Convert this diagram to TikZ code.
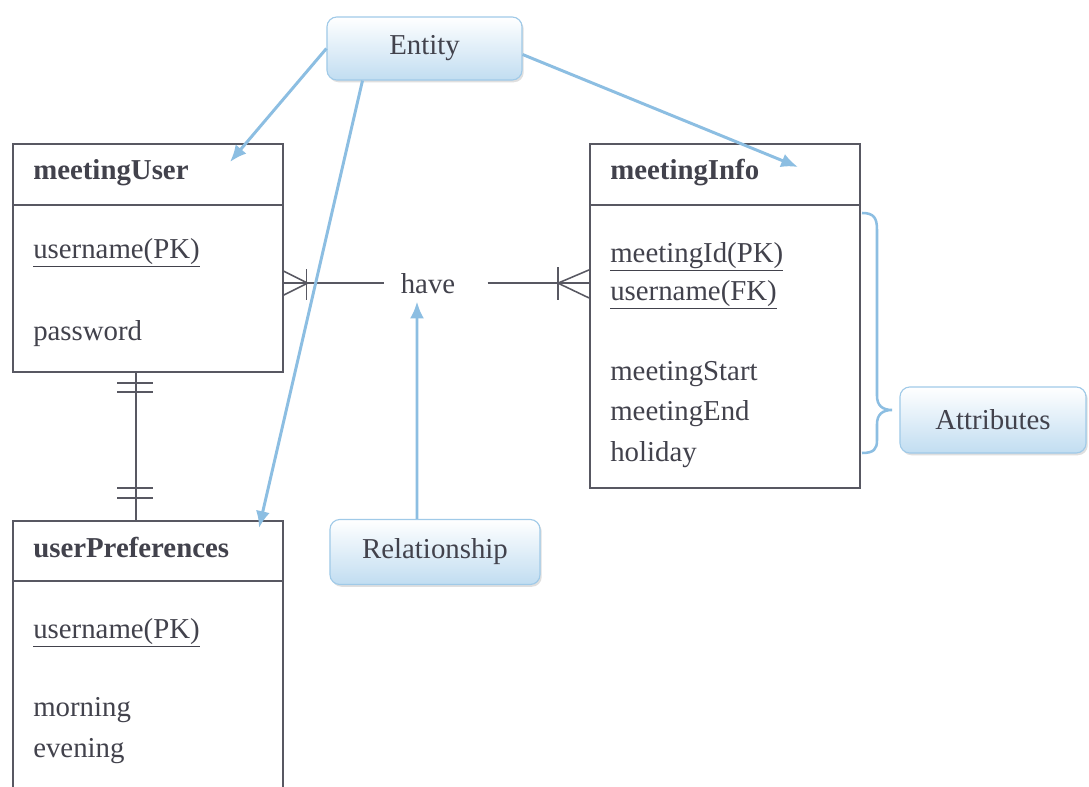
\documentclass[tikz,border=0pt]{standalone}
\usepackage{fontspec}
\setmainfont{Liberation Serif}
\usetikzlibrary{arrows.meta,shadows}

\definecolor{ink}{RGB}{66,66,76}
\definecolor{frame}{RGB}{88,88,98}
\definecolor{callout}{RGB}{140,190,226}
\definecolor{calloutfill}{RGB}{193,221,241}
\definecolor{calloutedge}{RGB}{160,202,232}

\tikzset{
  txt/.style={font=\fontsize{20.5}{24}\selectfont, text=ink, inner sep=0pt},
  lbl/.style={txt, anchor=base west},
  hdr/.style={lbl, font=\fontsize{20.5}{24}\selectfont\bfseries},
  tbl/.style={draw=frame, line width=1.1pt, minimum width=6.75cm, anchor=north west, inner sep=0pt},
  rel/.style={draw=frame, line width=1.1pt},
  callbox/.style={txt, rounded corners=7pt, draw=calloutedge, line width=0.8pt,
    top color=white, bottom color=calloutfill,
    drop shadow={shadow xshift=1.2pt, shadow yshift=-1.6pt, opacity=0.25}},
  pointer/.style={draw=callout, line width=2.1pt, -{Latex[length=12pt,width=10pt]}},
  brace/.style={draw=callout, line width=1.8pt}
}

\begin{document}
\begin{tikzpicture}[x=0.025cm, y=-0.025cm]
  \useasboundingbox (0,0) rectangle (1089,787);
  \fill[white] (0,0) rectangle (1089,787);
  \clip (0,0) rectangle (1089,787);

  % ---- tables ----
  \node[tbl, minimum height=5.7cm] (mu) at (12,143) {};
  \draw[rel] (mu.west |- 0,205) -- (mu.east |- 0,205);
  \node[hdr] (muH) at (33,180) {meetingUser};
  \node[lbl] (muA) at (33,258) {\underline{username(PK)}};
  \node[lbl] (muB) at (33,340) {password};

  \node[tbl, minimum height=8.6cm] (mi) at (589,143) {};
  \draw[rel] (mi.west |- 0,205) -- (mi.east |- 0,205);
  \node[hdr] (miH) at (610,180) {meetingInfo};
  \node[lbl] (miA) at (610,262) {\underline{meetingId(PK)}};
  \node[lbl] (miB) at (610,300) {\underline{username(FK)}};
  \node[lbl] (miC) at (610,380) {meetingStart};
  \node[lbl] (miD) at (610,420) {meetingEnd};
  \node[lbl] (miE) at (610,461) {holiday};

  \node[tbl, minimum height=7.5cm] (up) at (12,520) {};
  \draw[rel] (up.west |- 0,581) -- (up.east |- 0,581);
  \node[hdr] (upH) at (33,557) {userPreferences};
  \node[lbl] (upA) at (33,638) {\underline{username(PK)}};
  \node[lbl] (upB) at (33,716) {morning};
  \node[lbl] (upC) at (33,757) {evening};

  % ---- relationship "have" (many to many) ----
  \node[txt, anchor=base] (have) at (428,293) {have};
  \coordinate (L) at (mu.east |- have.west);
  \coordinate (R) at (mi.west |- have.east);
  \draw[rel] (L) -- ([xshift=-0.425cm]have.west);
  \draw[rel] ([yshift=0.3cm]L) -- ([xshift=0.6cm]L) -- ([yshift=-0.3cm]L);
  \draw[rel] ([xshift=0.575cm,yshift=0.35cm]L) -- ([xshift=0.575cm,yshift=-0.42cm]L);
  \draw[rel] ([xshift=0.8cm]have.east) -- (R);
  \draw[rel] ([yshift=0.33cm]R) -- ([xshift=-0.775cm]R) -- ([yshift=-0.37cm]R);
  \draw[rel] ([xshift=-0.775cm,yshift=0.4cm]R) -- ([xshift=-0.775cm,yshift=-0.42cm]R);

  % ---- one to one between meetingUser and userPreferences ----
  \draw[rel] (mu.south -| 136,0) -- (up.north -| 136,0);
  \draw[rel] (117,383) -- (153,383);
  \draw[rel] (117,392) -- (153,392);
  \draw[rel] (117,488) -- (153,488);
  \draw[rel] (117,498) -- (153,498);

  % ---- callouts ----
  \node[callbox, minimum width=4.875cm, minimum height=1.575cm] (entity) at (424.5,48.5) {Entity};
  \node[callbox, minimum width=5.25cm, minimum height=1.625cm] (relship) at (435,552) {Relationship};
  \node[callbox, minimum width=4.65cm, minimum height=1.65cm] (attr) at (993,420) {Attributes};

  \coordinate (muTip) at (230,162);
  \coordinate (upTip) at (259,528);
  \coordinate (miTip) at (798,167);
  \draw[pointer] (entity.west) -- (muTip);
  \draw[pointer] ([xshift=-1.55cm]entity.south) -- (upTip);
  \draw[pointer] ([yshift=-0.15cm]entity.east) -- (miTip);
  \draw[pointer] ([xshift=-0.45cm]relship.north) -- ([xshift=-0.275cm,yshift=-0.2cm]have.south);

  % brace grouping the attributes of meetingInfo
  \draw[brace] (862,213) .. controls (874,213) and (877,218) .. (877,230)
    -- (877,396) .. controls (877,405) and (882,410) .. (892,410)
    .. controls (882,410) and (877,415) .. (877,424)
    -- (877,440) .. controls (877,449) and (874,453) .. (862,453);
\end{tikzpicture}
\end{document}
